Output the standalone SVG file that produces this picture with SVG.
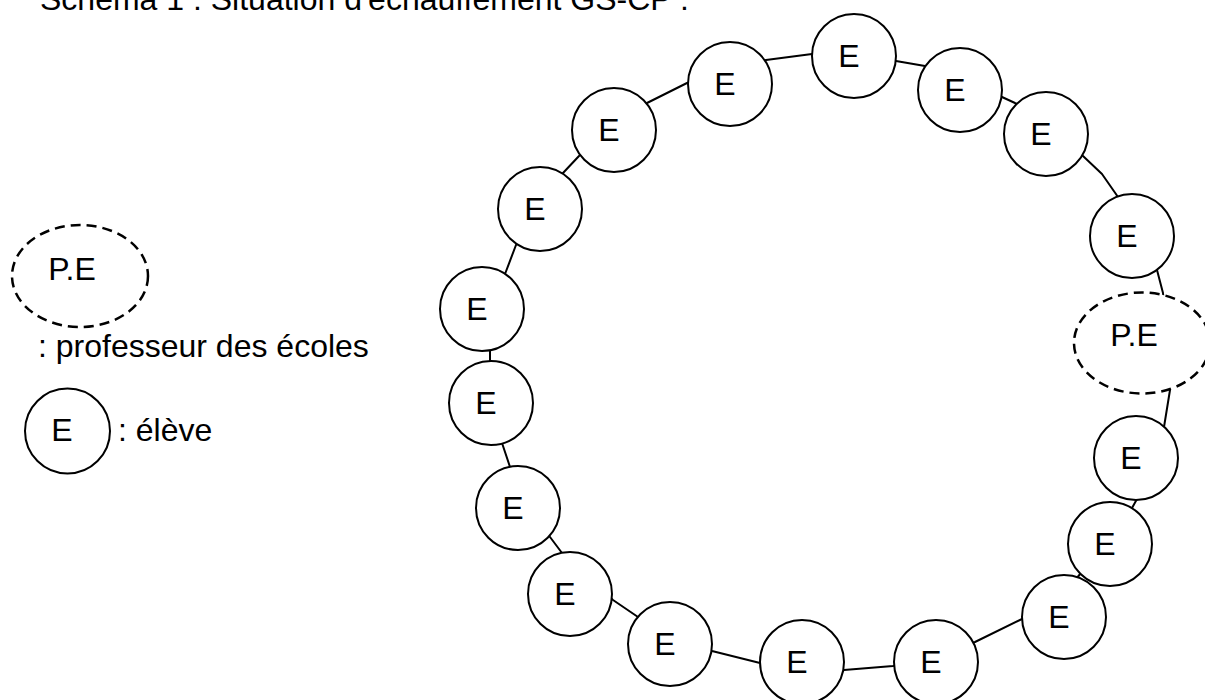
<svg xmlns="http://www.w3.org/2000/svg" width="1205" height="700" viewBox="0 0 1205 700">
<style>
  text { font-family: "Liberation Sans", Arial, sans-serif; font-size: 32px; fill: #000; }
  .lbl { text-anchor: middle; }
  .node { fill: #fff; stroke: #000; stroke-width: 2; }
  .pe { fill: #fff; stroke: #000; stroke-width: 2.5; stroke-dasharray: 10 6; }
  .ring { fill: none; stroke: #000; stroke-width: 2; stroke-linejoin: round; }
</style>
<rect width="1205" height="700" fill="#fff"/>
<text id="title" x="40" y="10">Schéma 1 : Situation d'échauffement GS-CP :</text>

<g id="legend-pe">
  <ellipse class="pe" cx="80" cy="276" rx="68" ry="51"/>
  <text class="lbl" x="72" y="280">P.E</text>
</g>
<text id="legend-pe-text" x="38" y="357">: professeur des écoles</text>
<g id="legend-e">
  <circle class="node" cx="67.5" cy="431" r="42.5"/>
  <text class="lbl" x="62" y="441">E</text>
</g>
<text id="legend-e-text" x="118" y="441">: élève</text>

<g id="connectors">
  <path class="ring" d="M766,60 L812,54 L896,61 L925,66 L1002,97 L1015,103 L1083,156 L1102,174 L1118,197 L1157,270 L1163,293 L1170,390 L1164,427 L1137,499 L1132,508 L1081,573 L1076,579 L1022,619 L975,642 L893,666 L844,670 L760,663 L712,651 L638,617 L613,600 L562,553 L550,537 L510,467 L502,443 L490,362 L490,350 L505,274 L516,245 L563,173 L579,156 L647,103 L687,83 Z"/>
</g>

<g id="e1"><circle class="node" cx="854" cy="56" r="42"/><text class="lbl" x="849" y="67">E</text></g>
<g id="e2"><circle class="node" cx="960" cy="90" r="42"/><text class="lbl" x="955" y="101">E</text></g>
<g id="e3"><circle class="node" cx="1046" cy="134" r="42"/><text class="lbl" x="1041" y="145">E</text></g>
<g id="e4"><circle class="node" cx="1132" cy="236" r="42"/><text class="lbl" x="1127" y="247">E</text></g>
<g id="pe"><ellipse class="pe" cx="1142" cy="343" rx="68" ry="50.5"/><text class="lbl" x="1134" y="346">P.E</text></g>
<g id="e5"><circle class="node" cx="1136" cy="458" r="42"/><text class="lbl" x="1131" y="469">E</text></g>
<g id="e6"><circle class="node" cx="1110" cy="544" r="42"/><text class="lbl" x="1105" y="555">E</text></g>
<g id="e7"><circle class="node" cx="1064" cy="617" r="42"/><text class="lbl" x="1059" y="628">E</text></g>
<g id="e8"><circle class="node" cx="936" cy="662" r="42"/><text class="lbl" x="931" y="673">E</text></g>
<g id="e9"><circle class="node" cx="802" cy="662" r="42"/><text class="lbl" x="797" y="673">E</text></g>
<g id="e10"><circle class="node" cx="670" cy="644" r="42"/><text class="lbl" x="665" y="655">E</text></g>
<g id="e11"><circle class="node" cx="570" cy="594" r="42"/><text class="lbl" x="565" y="605">E</text></g>
<g id="e12"><circle class="node" cx="518" cy="508" r="42"/><text class="lbl" x="513" y="519">E</text></g>
<g id="e13"><circle class="node" cx="491" cy="403" r="42"/><text class="lbl" x="486" y="414">E</text></g>
<g id="e14"><circle class="node" cx="482" cy="309" r="42"/><text class="lbl" x="477" y="320">E</text></g>
<g id="e15"><circle class="node" cx="540" cy="209" r="42"/><text class="lbl" x="535" y="220">E</text></g>
<g id="e16"><circle class="node" cx="614" cy="130" r="42"/><text class="lbl" x="609" y="141">E</text></g>
<g id="e17"><circle class="node" cx="730" cy="84" r="42"/><text class="lbl" x="725" y="95">E</text></g>
</svg>
